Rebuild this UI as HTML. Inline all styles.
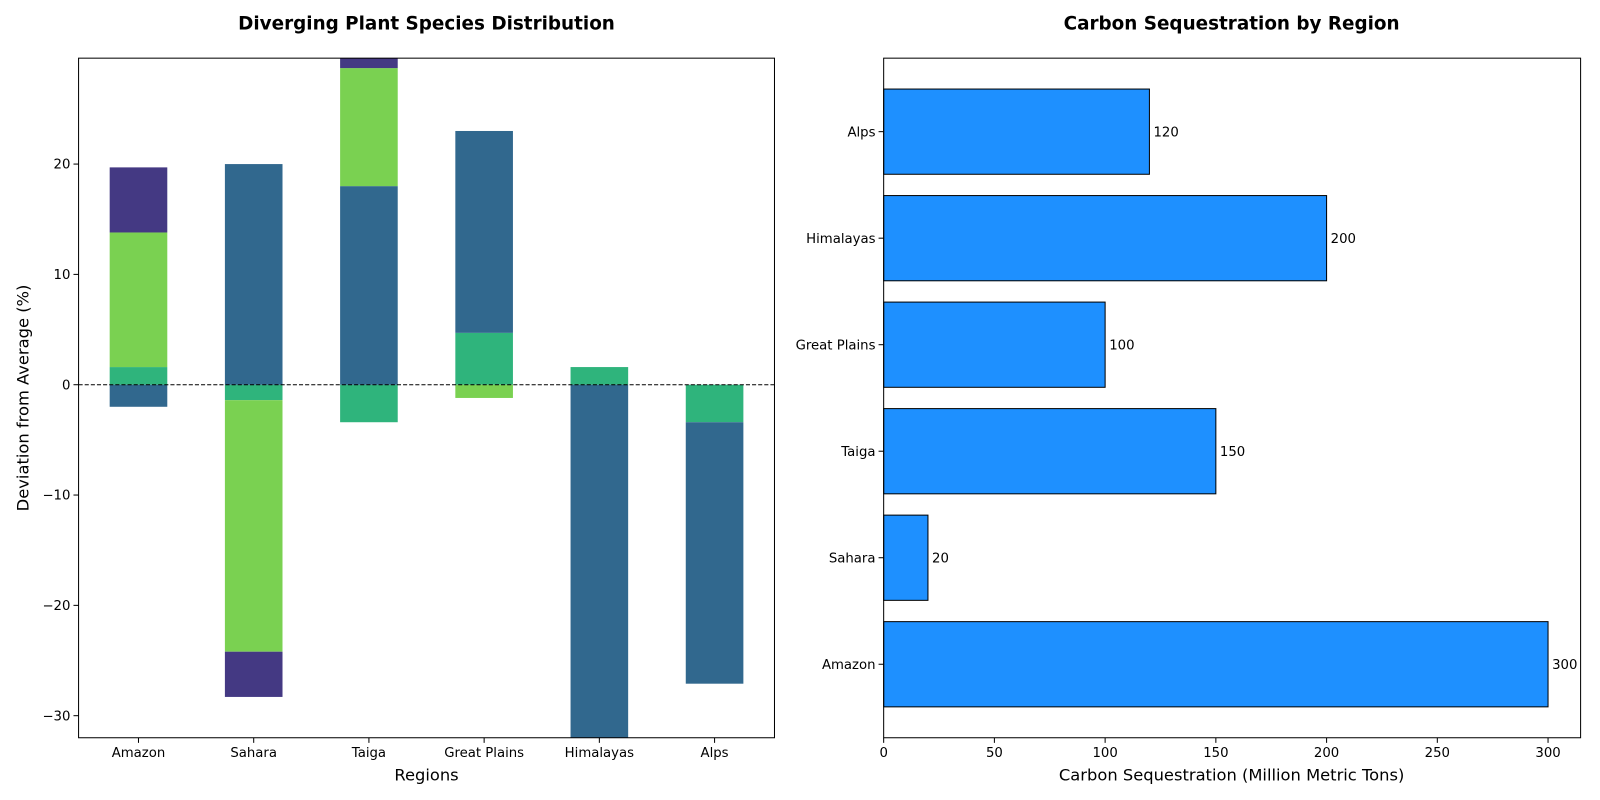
<!DOCTYPE html>
<html><head><meta charset="utf-8">
<style>
html,body{margin:0;padding:0;background:#fff;overflow:hidden;width:1600px;height:800px;font-family:"Liberation Sans","DejaVu Sans",sans-serif;}
svg{display:block;}
svg text{font-family:"DejaVu Sans","Liberation Sans",sans-serif;}
</style></head>
<body>
<svg id="chart" width="1600" height="800" xmlns="http://www.w3.org/2000/svg"><g id="root" transform="scale(1.0204)"></g></svg>
<script>
// Left chart data
const regions = ["Amazon","Sahara","Taiga","Great Plains","Himalayas","Alps"];
const seriesB = [1.6,-1.4,-3.4,4.7,1.6,-3.4];
const seriesA = [-2.0,20.0,18.0,18.3,-33.0,-23.7];
const seriesC = [12.2,-22.8,10.7,-1.2,0,0];
const seriesD = [5.9,-4.1,1.5,0,0,0];
const leftTicks = [-30,-20,-10,0,10,20];
// Right chart data
const carbonRegions = ["Amazon","Sahara","Taiga","Great Plains","Himalayas","Alps"];
const carbonValues = [300,20,150,100,200,120];
const rightTicks = [0,50,100,150,200,250,300];

const NS="http://www.w3.org/2000/svg";
const svgEl=document.getElementById('chart');
const svg=document.getElementById('root');
function mk(tag,attrs,parent){const e=document.createElementNS(NS,tag);for(const k in attrs)e.setAttribute(k,attrs[k]);(parent||svg).appendChild(e);return e;}
function txt(s,attrs,parent){const e=mk('text',attrs,parent);e.textContent=s;return e;}

// ---- Left chart ----
const L={x0:77,x1:759,y0:57,y1:723};
const yMin=-32.0,yMax=29.6,xMinL=-0.52,xMaxL=5.52;
const ly=v=>L.y1-(v-yMin)/(yMax-yMin)*(L.y1-L.y0);
const lx=i=>L.x0+(i-xMinL)/(xMaxL-xMinL)*(L.x1-L.x0);
const defs=mk('defs',{},svgEl);
const cp=mk('clipPath',{id:'clipL'},defs);
mk('rect',{x:L.x0,y:L.y0,width:L.x1-L.x0,height:L.y1-L.y0},cp);
const gL=mk('g',{'clip-path':'url(#clipL)'});


const stack=[[seriesB,'#2fb47c','b'],[seriesA,'#31688e','a'],[seriesC,'#7ad151','c'],[seriesD,'#443983','d']];
const pos=regions.map(()=>0),neg=regions.map(()=>0);
const bw=0.5;
stack.forEach(([vals,col,nm])=>{
  vals.forEach((v,i)=>{
    if(v===0)return;
    let b0,b1;
    if(v>0){b0=pos[i];b1=b0+v;pos[i]=b1;}else{b0=neg[i];b1=b0+v;neg[i]=b1;}
    const ya=ly(Math.max(b0,b1)),yb=ly(Math.min(b0,b1));
    const r=mk('rect',{x:lx(i-bw/2),y:ya,width:lx(i+bw/2)-lx(i-bw/2),height:yb-ya,fill:col},gL);
    
    
  });
});
mk('line',{x1:L.x0,x2:L.x1,y1:ly(0),y2:ly(0),stroke:'#000','stroke-width':1,'stroke-dasharray':'4,2'});
mk('rect',{x:L.x0,y:L.y0,width:L.x1-L.x0,height:L.y1-L.y0,fill:'none',stroke:'#000','stroke-width':1});
leftTicks.forEach(t=>{
  const y=ly(t);
  mk('line',{x1:L.x0-5,x2:L.x0,y1:y,y2:y,stroke:'#000'});
  const e=txt((t<0?'\u2212':'')+Math.abs(t),{x:L.x0-8,y:y+4.5,'text-anchor':'end','font-size':13});
  
});
regions.forEach((r,i)=>{
  const x=lx(i);
  mk('line',{x1:x,x2:x,y1:L.y1,y2:L.y1+5,stroke:'#000'});
  const e=txt(r,{x:x,y:L.y1+19,'text-anchor':'middle','font-size':13});
  
});
let e;
e=txt('Diverging Plant Species Distribution',{x:418,y:29,'text-anchor':'middle','font-size':18,'font-weight':'bold'});

e=txt('Regions',{x:418,y:765,'text-anchor':'middle','font-size':16});

e=txt('Deviation from Average (%)',{x:0,y:0,'text-anchor':'middle','font-size':16,transform:'translate(28,390) rotate(-90)'});


// ---- Right chart ----
const R={x0:866,x1:1549,y0:57,y1:723};
const xMax=314.7,yMinR=-0.69,yMaxR=5.69;
const rx=v=>R.x0+v/xMax*(R.x1-R.x0);
const ry=i=>R.y1-(i-yMinR)/(yMaxR-yMinR)*(R.y1-R.y0);
carbonValues.forEach((v,i)=>{
  const ya=ry(i+0.4),yb=ry(i-0.4);
  const r=mk('rect',{x:rx(0),y:ya,width:rx(v)-rx(0),height:yb-ya,fill:'#1e90ff',stroke:'#000','stroke-width':1});
  
  
  const t=txt(String(v),{x:rx(v)+4,y:ry(i)+4.5,'font-size':13});
  
  mk('line',{x1:R.x0-5,x2:R.x0,y1:ry(i),y2:ry(i),stroke:'#000'});
  const l=txt(carbonRegions[i],{x:R.x0-8,y:ry(i)+4.5,'text-anchor':'end','font-size':13});
  
});
mk('rect',{x:R.x0,y:R.y0,width:R.x1-R.x0,height:R.y1-R.y0,fill:'none',stroke:'#000','stroke-width':1});
rightTicks.forEach(t=>{
  const x=rx(t);
  mk('line',{x1:x,x2:x,y1:R.y1,y2:R.y1+5,stroke:'#000'});
  const e2=txt(String(t),{x:x,y:R.y1+19,'text-anchor':'middle','font-size':13});
  
});
e=txt('Carbon Sequestration by Region',{x:1207,y:29,'text-anchor':'middle','font-size':18,'font-weight':'bold'});

e=txt('Carbon Sequestration (Million Metric Tons)',{x:1207,y:765,'text-anchor':'middle','font-size':16});

</script>
</body></html>
